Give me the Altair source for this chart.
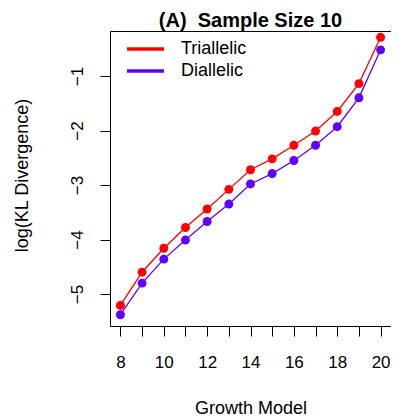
import altair as alt
import pandas as pd

growth = list(range(8, 21))
triallelic = [-5.21, -4.60, -4.16, -3.78, -3.44, -3.08, -2.72, -2.52, -2.27, -2.01, -1.65, -1.14, -0.29]
diallelic = [-5.38, -4.80, -4.36, -4.01, -3.67, -3.35, -2.98, -2.79, -2.55, -2.27, -1.93, -1.40, -0.52]
series_names = ["Triallelic", "Diallelic"]
series_colors = ["#FF0000", "#6100FF"]
x_ticks = growth
y_ticks = [-5, -4, -3, -2, -1]
title_text = ["(A)\u00a0\u00a0Sample Size 10"]

rows = []
for g, t, d in zip(growth, triallelic, diallelic):
    rows.append({"growth": g, "value": t, "series": "Triallelic"})
    rows.append({"growth": g, "value": d, "series": "Diallelic"})
df = pd.DataFrame(rows)

FONT = "Liberation Sans"
W, H = 281, 295

x_enc = alt.X(
    "growth:Q",
    scale=alt.Scale(domain=[7.52, 20.48], nice=False, zero=False),
    axis=alt.Axis(
        values=x_ticks,
        labelExpr="datum.value % 2 == 0 ? datum.label : ''",
        title="Growth Model",
        domain=False, grid=False,
        tickSize=10, tickColor="black", tickWidth=1,
        labelPadding=18, labelFontSize=17, labelColor="black", labelFont=FONT,
        labelBaseline="top",
        titleFontSize=18, titleFontWeight="normal", titleColor="black", titleFont=FONT,
        titleBaseline="alphabetic", titleY=87,
    ),
)
y_enc = alt.Y(
    "value:Q",
    scale=alt.Scale(domain=[-5.587, -0.174], nice=False, zero=False),
    axis=alt.Axis(
        values=y_ticks,
        title="log(KL Divergence)",
        domain=False, grid=False,
        tickSize=10, tickColor="black", tickWidth=1,
        labelAngle=-90, labelAlign="center", labelBaseline="alphabetic",
        labelPadding=18, labelFontSize=17, labelColor="black", labelFont=FONT,
        titleFontSize=18, titleFontWeight="normal", titleColor="black", titleFont=FONT,
        titleAngle=-90, titleBaseline="alphabetic", titleAlign="center",
        titleX=-83, titleY=144,
    ),
)
color_scale = alt.Scale(domain=series_names, range=series_colors)

lines = alt.Chart(df).mark_line(strokeWidth=1.3).encode(
    x=x_enc, y=y_enc,
    color=alt.Color(
        "series:N", scale=color_scale,
        legend=alt.Legend(
            title=None, orient="none", legendX=15, legendY=7,
            symbolType="stroke", symbolSize=1369, symbolStrokeWidth=3.5,
            clipHeight=22, rowPadding=0, padding=0, symbolOffset=0,
            labelFontSize=18, labelFont=FONT, labelColor="black", labelOffset=15,
        ),
    ),
    detail="series:N",
)
points = alt.Chart(df).mark_circle(size=80, opacity=1).encode(
    x=x_enc, y=y_enc,
    color=alt.Color("series:N", scale=color_scale, legend=None),
)
title = alt.Chart(pd.DataFrame({"t": title_text})).mark_text(
    font=FONT, fontSize=20, fontWeight="bold", color="black",
    align="center", baseline="alphabetic",
).encode(text="t:N", x=alt.value(W / 2), y=alt.value(-4.5))

chart = alt.layer(lines, points, title).properties(
    width=W, height=H,
    autosize=alt.AutoSizeParams(type="none"),
    padding={"left": 102, "top": 23, "right": 0, "bottom": 90},
).configure_view(stroke="black", strokeWidth=1)

chart.save("out.html", embed_options={"renderer": "svg", "actions": False})
